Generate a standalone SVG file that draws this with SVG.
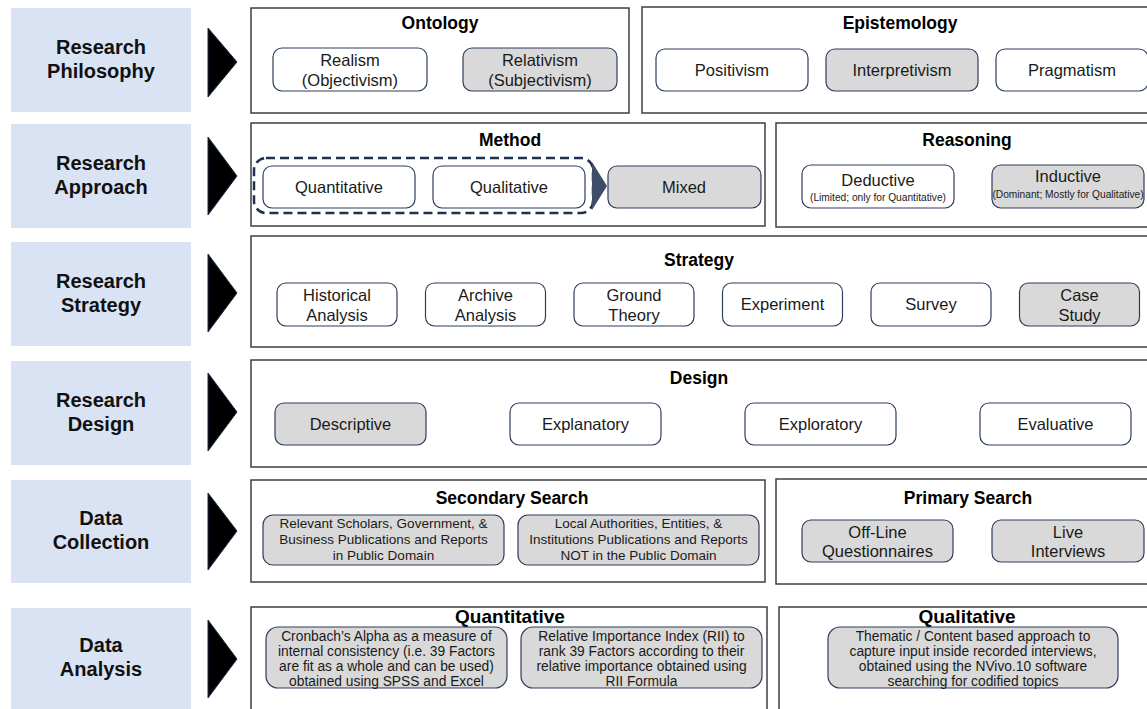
<svg xmlns="http://www.w3.org/2000/svg" width="1147" height="709" viewBox="0 0 1147 709">
<style>
.lbl{fill:#dae3f3}
.lt{font-family:"Liberation Sans",Arial,sans-serif;font-weight:bold;font-size:20px;text-anchor:middle;fill:#111}
.frame{fill:#fff;stroke:#3f3f3f;stroke-width:1.5}
.ft{font-family:"Liberation Sans",Arial,sans-serif;font-weight:bold;font-size:17.5px;text-anchor:middle;fill:#000}
.ft2{font-size:19px}
.box{fill:#fff;stroke:#2f3d5c;stroke-width:1.2}
.g{fill:#d9d9d9}
.bt{font-family:"Liberation Sans",Arial,sans-serif;font-size:16.5px;text-anchor:middle;fill:#1a1a1a}
.st{font-family:"Liberation Sans",Arial,sans-serif;font-size:13.5px;text-anchor:middle;fill:#1a1a1a}
.st2{font-family:"Liberation Sans",Arial,sans-serif;font-size:13.8px;text-anchor:middle;fill:#1a1a1a}
.xs{font-family:"Liberation Sans",Arial,sans-serif;font-size:10.2px;text-anchor:middle;fill:#1a1a1a}
.tri{fill:#000;stroke:#1f2a44;stroke-width:1}
.dash{fill:none;stroke:#1f3050;stroke-width:2.5;stroke-dasharray:9 5}
</style>

<g id="row-philosophy">
  <g id="lbl-philosophy"><rect class="lbl" x="11" y="8" width="180" height="104"/><text class="lt" x="101" y="54">Research</text><text class="lt" x="101" y="78">Philosophy</text></g>
  <g id="ontology"><rect class="frame" x="251" y="8" width="378" height="105"/><text class="ft" x="440" y="29">Ontology</text></g>
  <g id="realism"><rect class="box" x="273" y="48" width="154" height="43" rx="9"/><text class="bt" x="350" y="66">Realism</text><text class="bt" x="350" y="86">(Objectivism)</text></g>
  <g id="relativism"><rect class="box g" x="463" y="48" width="154" height="43" rx="9"/><text class="bt" x="540" y="66">Relativism</text><text class="bt" x="540" y="86">(Subjectivism)</text></g>
  <g id="epistemology"><rect class="frame" x="642" y="7" width="515" height="106"/><text class="ft" x="900" y="29">Epistemology</text></g>
  <g id="positivism"><rect class="box" x="656" y="49" width="152" height="42" rx="9"/><text class="bt" x="732" y="76">Positivism</text></g>
  <g id="interpretivism"><rect class="box g" x="826" y="49" width="152" height="42" rx="9"/><text class="bt" x="902" y="76">Interpretivism</text></g>
  <g id="pragmatism"><rect class="box" x="996" y="49" width="152" height="42" rx="9"/><text class="bt" x="1072" y="76">Pragmatism</text></g>
</g>

<g id="row-approach">
  <g id="lbl-approach"><rect class="lbl" x="11" y="124" width="180" height="104"/><text class="lt" x="101" y="170">Research</text><text class="lt" x="101" y="194">Approach</text></g>
  <g id="method"><rect class="frame" x="251" y="123" width="514" height="103"/><text class="ft" x="510" y="146">Method</text></g>
  <g id="quantitative"><rect class="box" x="263" y="166" width="152" height="42" rx="9"/><text class="bt" x="339" y="193">Quantitative</text></g>
  <g id="qualitative"><rect class="box" x="433" y="166" width="152" height="42" rx="9"/><text class="bt" x="509" y="193">Qualitative</text></g>
  <g id="mono-group"><rect class="dash" x="254" y="158" width="339" height="55" rx="12"/><polygon points="592,162 607,186 592,210" fill="#3e4c68"/></g>
  <g id="mixed"><rect class="box g" x="608" y="166" width="153" height="42" rx="9"/><text class="bt" x="684" y="193">Mixed</text></g>
  <g id="reasoning"><rect class="frame" x="776" y="123" width="380" height="104"/><text class="ft" x="967" y="146">Reasoning</text></g>
  <g id="deductive"><rect class="box" x="802" y="165" width="152" height="43" rx="9"/><text class="bt" x="878" y="186">Deductive</text><text class="xs" x="878" y="201">(Limited; only for Quantitative)</text></g>
  <g id="inductive"><rect class="box g" x="992" y="165" width="152" height="43" rx="9"/><text class="bt" x="1068" y="182">Inductive</text><text class="xs" x="1068" y="198">(Dominant; Mostly for Qualitative)</text></g>
</g>

<g id="row-strategy">
  <g id="lbl-strategy"><rect class="lbl" x="11" y="242" width="180" height="104"/><text class="lt" x="101" y="288">Research</text><text class="lt" x="101" y="312">Strategy</text></g>
  <g id="strategy"><rect class="frame" x="251" y="236" width="905" height="111"/><text class="ft" x="699" y="266">Strategy</text></g>
  <g id="historical"><rect class="box" x="277" y="283" width="120" height="43" rx="9"/><text class="bt" x="337" y="301">Historical</text><text class="bt" x="337" y="321">Analysis</text></g>
  <g id="archive"><rect class="box" x="425.5" y="283" width="120" height="43" rx="9"/><text class="bt" x="485.5" y="301">Archive</text><text class="bt" x="485.5" y="321">Analysis</text></g>
  <g id="ground"><rect class="box" x="574" y="283" width="120" height="43" rx="9"/><text class="bt" x="634" y="301">Ground</text><text class="bt" x="634" y="321">Theory</text></g>
  <g id="experiment"><rect class="box" x="722.5" y="283" width="120" height="43" rx="9"/><text class="bt" x="782.5" y="310">Experiment</text></g>
  <g id="survey"><rect class="box" x="871" y="283" width="120" height="43" rx="9"/><text class="bt" x="931" y="310">Survey</text></g>
  <g id="casestudy"><rect class="box g" x="1019.5" y="283" width="120" height="43" rx="9"/><text class="bt" x="1079.5" y="301">Case</text><text class="bt" x="1079.5" y="321">Study</text></g>
</g>

<g id="row-design">
  <g id="lbl-design"><rect class="lbl" x="11" y="361" width="180" height="104"/><text class="lt" x="101" y="407">Research</text><text class="lt" x="101" y="431">Design</text></g>
  <g id="design"><rect class="frame" x="251" y="360" width="905" height="107"/><text class="ft" x="699" y="384">Design</text></g>
  <g id="descriptive"><rect class="box g" x="275" y="403" width="151" height="42" rx="9"/><text class="bt" x="350.5" y="430">Descriptive</text></g>
  <g id="explanatory"><rect class="box" x="510" y="403" width="151" height="42" rx="9"/><text class="bt" x="585.5" y="430">Explanatory</text></g>
  <g id="exploratory"><rect class="box" x="745" y="403" width="151" height="42" rx="9"/><text class="bt" x="820.5" y="430">Exploratory</text></g>
  <g id="evaluative"><rect class="box" x="980" y="403" width="151" height="42" rx="9"/><text class="bt" x="1055.5" y="430">Evaluative</text></g>
</g>

<g id="row-collection">
  <g id="lbl-collection"><rect class="lbl" x="11" y="480" width="180" height="103"/><text class="lt" x="101" y="525">Data</text><text class="lt" x="101" y="549">Collection</text></g>
  <g id="secondary"><rect class="frame" x="251" y="480" width="514" height="102"/><text class="ft" x="512" y="504">Secondary Search</text></g>
  <g id="sec-public"><rect class="box g" x="263" y="515" width="241" height="50" rx="10"/><text class="st" x="383.5" y="528">Relevant Scholars, Government, &amp;</text><text class="st" x="383.5" y="544">Business Publications and Reports</text><text class="st" x="383.5" y="560">in Public Domain</text></g>
  <g id="sec-private"><rect class="box g" x="518" y="515" width="241" height="50" rx="10"/><text class="st" x="638.5" y="528">Local Authorities, Entities, &amp;</text><text class="st" x="638.5" y="544">Institutions Publications and Reports</text><text class="st" x="638.5" y="560">NOT in the Public Domain</text></g>
  <g id="primary"><rect class="frame" x="776" y="479" width="380" height="105"/><text class="ft" x="968" y="504">Primary Search</text></g>
  <g id="offline"><rect class="box g" x="802" y="520" width="151" height="42" rx="9"/><text class="bt" x="877.5" y="538">Off-Line</text><text class="bt" x="877.5" y="557">Questionnaires</text></g>
  <g id="live"><rect class="box g" x="992" y="520" width="152" height="42" rx="9"/><text class="bt" x="1068" y="538">Live</text><text class="bt" x="1068" y="557">Interviews</text></g>
</g>

<g id="row-analysis">
  <g id="lbl-analysis"><rect class="lbl" x="11" y="608" width="180" height="101"/><text class="lt" x="101" y="652">Data</text><text class="lt" x="101" y="676">Analysis</text></g>
  <g id="quant-analysis"><rect class="frame" x="251" y="607" width="516" height="110"/><text class="ft ft2" x="510" y="623">Quantitative</text></g>
  <g id="cronbach"><rect class="box g" x="266" y="627" width="241" height="61" rx="12"/><text class="st2" x="386.5" y="641">Cronbach’s Alpha as a measure of</text><text class="st2" x="386.5" y="656">internal consistency (i.e. 39 Factors</text><text class="st2" x="386.5" y="671">are fit as a whole and can be used)</text><text class="st2" x="386.5" y="686">obtained using SPSS and Excel</text></g>
  <g id="rii"><rect class="box g" x="521" y="627" width="241" height="61" rx="12"/><text class="st2" x="641.5" y="641">Relative Importance Index (RII) to</text><text class="st2" x="641.5" y="656">rank 39 Factors according to their</text><text class="st2" x="641.5" y="671">relative importance obtained using</text><text class="st2" x="641.5" y="686">RII Formula</text></g>
  <g id="qual-analysis"><rect class="frame" x="779" y="607" width="380" height="110"/><text class="ft ft2" x="967" y="623">Qualitative</text></g>
  <g id="thematic"><rect class="box g" x="828" y="627" width="290" height="61" rx="12"/><text class="st2" x="973" y="641">Thematic / Content based approach to</text><text class="st2" x="973" y="656">capture input inside recorded interviews,</text><text class="st2" x="973" y="671">obtained using the NVivo.10 software</text><text class="st2" x="973" y="686">searching for codified topics</text></g>
</g>

<g id="connectors">
  <polygon class="tri" points="208,28 237,62 208,97"/>
  <polygon class="tri" points="208,137 237,176 208,215"/>
  <polygon class="tri" points="208,254 237,293 208,332"/>
  <polygon class="tri" points="208,373 237,412 208,451"/>
  <polygon class="tri" points="208,493 237,531 208,570"/>
  <polygon class="tri" points="208,620 237,659 208,698"/>
</g>
</svg>
